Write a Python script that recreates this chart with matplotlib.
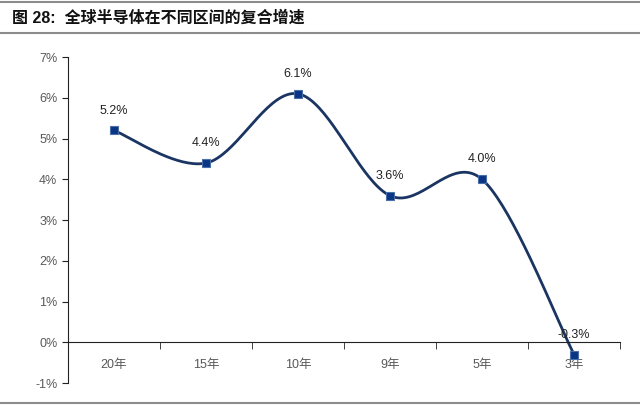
import numpy as np
import matplotlib
matplotlib.use('Agg')
import matplotlib.pyplot as plt
from matplotlib.ticker import FuncFormatter

plt.rcParams['font.family'] = ['Liberation Sans', 'Noto Sans CJK SC', 'DejaVu Sans']

# 数据
periods = ['20年', '15年', '10年', '9年', '5年', '3年']
cagr = [5.2, 4.4, 6.1, 3.6, 4.0, -0.3]
labels = ['5.2%', '4.4%', '6.1%', '3.6%', '4.0%', '-0.3%']
title = '图 28:  全球半导体在不同区间的复合增速'


# Excel 风格平滑线（Catmull-Rom 贝塞尔）
def smooth(xs, ys, n=40):
    xs = np.asarray(xs, float)
    ys = np.asarray(ys, float)
    px = np.concatenate([[xs[0]], xs, [xs[-1]]])
    py = np.concatenate([[ys[0]], ys, [ys[-1]]])
    out_x, out_y = [], []
    t = np.linspace(0, 1, n)
    for i in range(1, len(px) - 2):
        p0 = np.array([px[i], py[i]])
        p3 = np.array([px[i + 1], py[i + 1]])
        c1 = p0 + (np.array([px[i + 1], py[i + 1]]) - np.array([px[i - 1], py[i - 1]])) / 6
        c2 = p3 - (np.array([px[i + 2], py[i + 2]]) - np.array([px[i], py[i]])) / 6
        b = ((1 - t) ** 3)[:, None] * p0 + (3 * (1 - t) ** 2 * t)[:, None] * c1 \
            + (3 * (1 - t) * t ** 2)[:, None] * c2 + (t ** 3)[:, None] * p3
        out_x.extend(b[:, 0])
        out_y.extend(b[:, 1])
    return out_x, out_y


fig = plt.figure(figsize=(6.4, 4.05), dpi=100)
ax = fig.add_axes([0.106, 0.054, 0.863, 0.805])

x = np.arange(len(periods)) + 0.5
sx, sy = smooth(x, cagr)
ax.plot(sx, sy, color='#1B3563', lw=2, zorder=2)
ax.plot(x, cagr, 's', ms=6, mfc='#0A3585', mec='#4A6FA8', mew=0.8, zorder=3)

for xi, yi, lab in zip(x, cagr, labels):
    ax.annotate(lab, (xi, yi), xytext=(0, 10), textcoords='offset points',
                ha='center', va='bottom', fontsize=9, color='#222222')

ax.set_xlim(0, 6)
ax.set_ylim(-1, 7)
ax.set_yticks(range(-1, 8))
ax.yaxis.set_major_formatter(FuncFormatter(lambda v, p: f'{v:.0f}%'))

ax.set_xticks(x)
ax.set_xticklabels(periods)
ax.set_xticks(range(1, 7), minor=True)
ax.tick_params(axis='x', which='major', length=0, pad=12, labelsize=9, labelcolor='#595959')
ax.tick_params(axis='x', which='minor', length=5, direction='out', color='#222222')
ax.tick_params(axis='y', length=4, direction='out', labelsize=9, labelcolor='#595959', color='#222222')

for s in ['top', 'right']:
    ax.spines[s].set_visible(False)
ax.spines['bottom'].set_position(('data', 0))
ax.spines['bottom'].set_color('#222222')
ax.spines['left'].set_color('#222222')

# 标题与分隔线
fig.text(0.019, 0.955, title, fontsize=11.5, fontweight='bold', ha='left', va='center', color='#111111')
for yy in [0.994, 0.918, 0.005]:
    fig.add_artist(plt.Line2D([0, 1], [yy, yy], color='#8C8C8C', lw=1.5))

fig.savefig('out.png', dpi=100)
